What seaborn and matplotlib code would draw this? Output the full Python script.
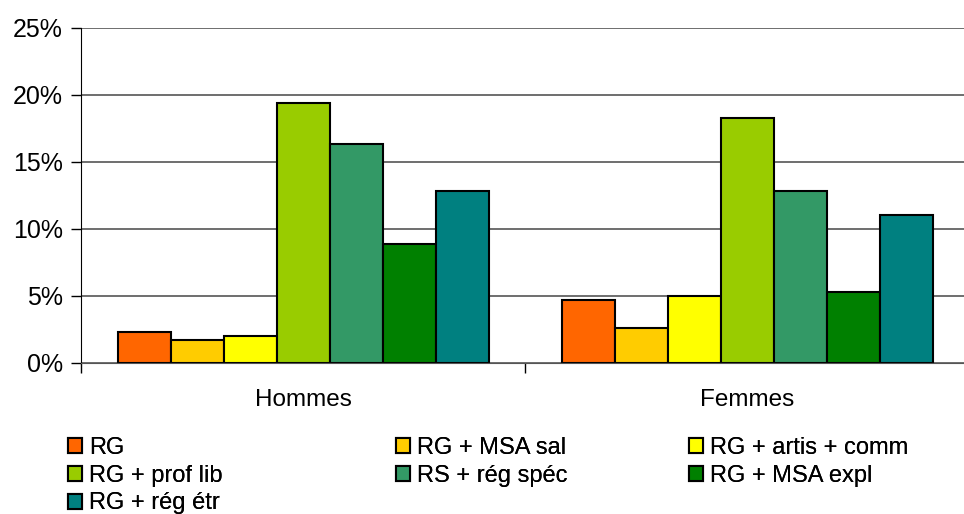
import matplotlib
matplotlib.use("Agg")
import matplotlib.pyplot as plt
from matplotlib.ticker import PercentFormatter, FixedLocator
import seaborn as sns
import pandas as pd

# Groups and series
groups = ["Hommes", "Femmes"]
series = ["RG", "RG + MSA sal", "RG + artis + comm", "RG + prof lib",
          "RS + rég spéc", "RG + MSA expl", "RG + rég étr"]
hommes = [2.3, 1.7, 2.0, 19.4, 16.3, 8.9, 12.8]
femmes = [4.7, 2.6, 5.0, 18.3, 12.8, 5.3, 11.0]
colors = ["#FF6600", "#FFCC00", "#FFFF00", "#99CC00", "#339966", "#008000", "#008080"]

rows = []
for s, h, f in zip(series, hommes, femmes):
    rows.append({"groupe": "Hommes", "serie": s, "valeur": h})
    rows.append({"groupe": "Femmes", "serie": s, "valeur": f})
df = pd.DataFrame(rows)

sns.set_style("white")
plt.rcParams["font.family"] = ["Liberation Sans", "DejaVu Sans"]
plt.rcParams["text.color"] = "black"
plt.rcParams["xtick.color"] = "black"
plt.rcParams["ytick.color"] = "black"

W, H = 964, 514
fig = plt.figure(figsize=(W / 100, H / 100), dpi=100)
ax = fig.add_axes([0.084, 0.294, 0.922, 0.652])

sns.barplot(data=df, x="groupe", y="valeur", hue="serie", order=groups,
            hue_order=series, palette=colors, width=0.835, gap=0,
            edgecolor="black", linewidth=1.5, saturation=1, ax=ax, legend=True)

ax.set_ylim(0, 25)
ax.set_xlim(-0.5, 1.5)
ax.yaxis.set_major_locator(FixedLocator([0, 5, 10, 15, 20, 25]))
ax.yaxis.set_major_formatter(PercentFormatter(decimals=0))
ax.grid(axis="y", color="#555555", linewidth=1.2)
ax.set_axisbelow(True)
ax.set_xlabel("")
ax.set_ylabel("")

for side in ["top", "right"]:
    ax.spines[side].set_visible(False)
ax.spines["left"].set_color("black")
ax.spines["bottom"].set_color("#555555")

ax.tick_params(axis="y", left=True, length=7, width=1, labelsize=18, pad=6)
ax.tick_params(axis="x", which="major", length=0, labelsize=17.5, pad=19)
ax.set_xticks([-0.5, 0.5, 1.5], minor=True)
ax.tick_params(axis="x", which="minor", bottom=True, length=7, width=1)

# legend: three columns at fixed positions, filled row by row
handles, labels = ax.get_legend_handles_labels()
ax.get_legend().remove()
col_x = [68, 396, 689]
for c, x in enumerate(col_x):
    idx = list(range(c, len(handles), 3))
    leg = fig.legend([handles[i] for i in idx], [labels[i] for i in idx],
                     loc="upper left", bbox_to_anchor=(x / W, (H - 437) / H),
                     bbox_transform=fig.transFigure, frameon=False, fontsize=17,
                     handlelength=0.6, handleheight=0.6, handletextpad=0.3,
                     labelspacing=0.24, borderpad=0, borderaxespad=0)
    fig.add_artist(leg)

fig.savefig("out.png", dpi=100)
